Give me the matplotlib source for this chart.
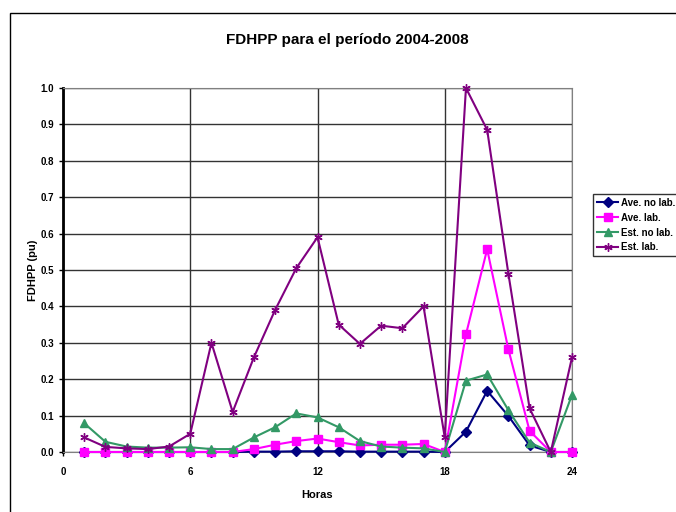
import matplotlib
matplotlib.use('Agg')
import matplotlib.pyplot as plt
from matplotlib.patches import Rectangle

plt.rcParams['font.family'] = ['Liberation Sans', 'DejaVu Sans']
plt.rcParams['font.weight'] = 'bold'

horas = list(range(1, 25))
ave_no_lab = [0, 0, 0, 0, 0, 0, 0, 0, 0.001, 0.001, 0.002, 0.002, 0.002, 0.001, 0.001, 0.001, 0.001, 0,
              0.056, 0.168, 0.099, 0.018, 0, 0]
ave_lab = [0, 0, 0, 0, 0, 0, 0, 0, 0.008, 0.02, 0.03, 0.037, 0.027, 0.018, 0.02, 0.02, 0.022, 0,
           0.323, 0.557, 0.282, 0.058, 0, 0]
est_no_lab = [0.079, 0.028, 0.015, 0.012, 0.012, 0.013, 0.008, 0.008, 0.04, 0.068, 0.106, 0.095,
              0.068, 0.03, 0.015, 0.012, 0.01, 0, 0.196, 0.213, 0.115, 0.026, 0, 0.157]
est_lab = [0.04, 0.014, 0.01, 0.008, 0.015, 0.05, 0.30, 0.11, 0.26, 0.39, 0.505, 0.59, 0.35, 0.297,
           0.347, 0.34, 0.40, 0.04, 1.0, 0.885, 0.49, 0.12, 0.0, 0.26]

series = [
    ('Ave. no lab.', ave_no_lab, '#000080', 'D', 5),
    ('Ave. lab.', ave_lab, '#FF00FF', 's', 6),
    ('Est. no lab.', est_no_lab, '#339966', '^', 6),
    ('Est. lab.', est_lab, '#800080', (6, 2, 0), 6),
]

fig = plt.figure(figsize=(6.76, 5.12), dpi=100)
ax = fig.add_axes([63 / 676, 60 / 512, 509 / 676, 364 / 512])

for name, vals, col, mk, ms in series:
    ax.plot(horas, vals, color=col, marker=mk, markersize=ms, linewidth=1.5,
            markeredgecolor=col, label=name, clip_on=False, zorder=3)

ax.set_xlim(0, 24)
ax.set_ylim(0, 1.0)
ax.set_xticks([0, 6, 12, 18, 24])
ax.set_yticks([i / 10 for i in range(11)])
ax.set_yticklabels([f'{i / 10:.1f}' for i in range(11)])
ax.tick_params(labelsize=7, length=3, width=1, direction='out')
ax.tick_params(axis='x', pad=8)
ax.grid(True, color='#333333', linewidth=1)
ax.set_axisbelow(True)
for s in ['top', 'right']:
    ax.spines[s].set_color('#808080')
ax.spines['bottom'].set_color('#808080')
ax.spines['left'].set_linewidth(2)

fig.text(347 / 676, 1 - 40 / 512, 'FDHPP para el período 2004-2008', fontsize=11,
         fontweight='bold', ha='center', va='center')
ax.set_xlabel('Horas', fontsize=8, fontweight='bold', labelpad=9)
ax.set_ylabel('FDHPP (pu)', fontsize=8, fontweight='bold', labelpad=2)

leg = fig.legend(loc='upper left', bbox_to_anchor=(593 / 676, 1 - 194 / 512), fontsize=7,
                 frameon=True, fancybox=False, edgecolor='black', handlelength=2.2,
                 borderpad=0.4, labelspacing=0.5, handletextpad=0.3, borderaxespad=0)
leg.get_frame().set_linewidth(1)

fig.patches.append(Rectangle((10 / 676, -0.1), 1.2, 1.1 - 13 / 512, transform=fig.transFigure,
                             fill=False, edgecolor='black', linewidth=1))

fig.savefig('out.png', dpi=100)
